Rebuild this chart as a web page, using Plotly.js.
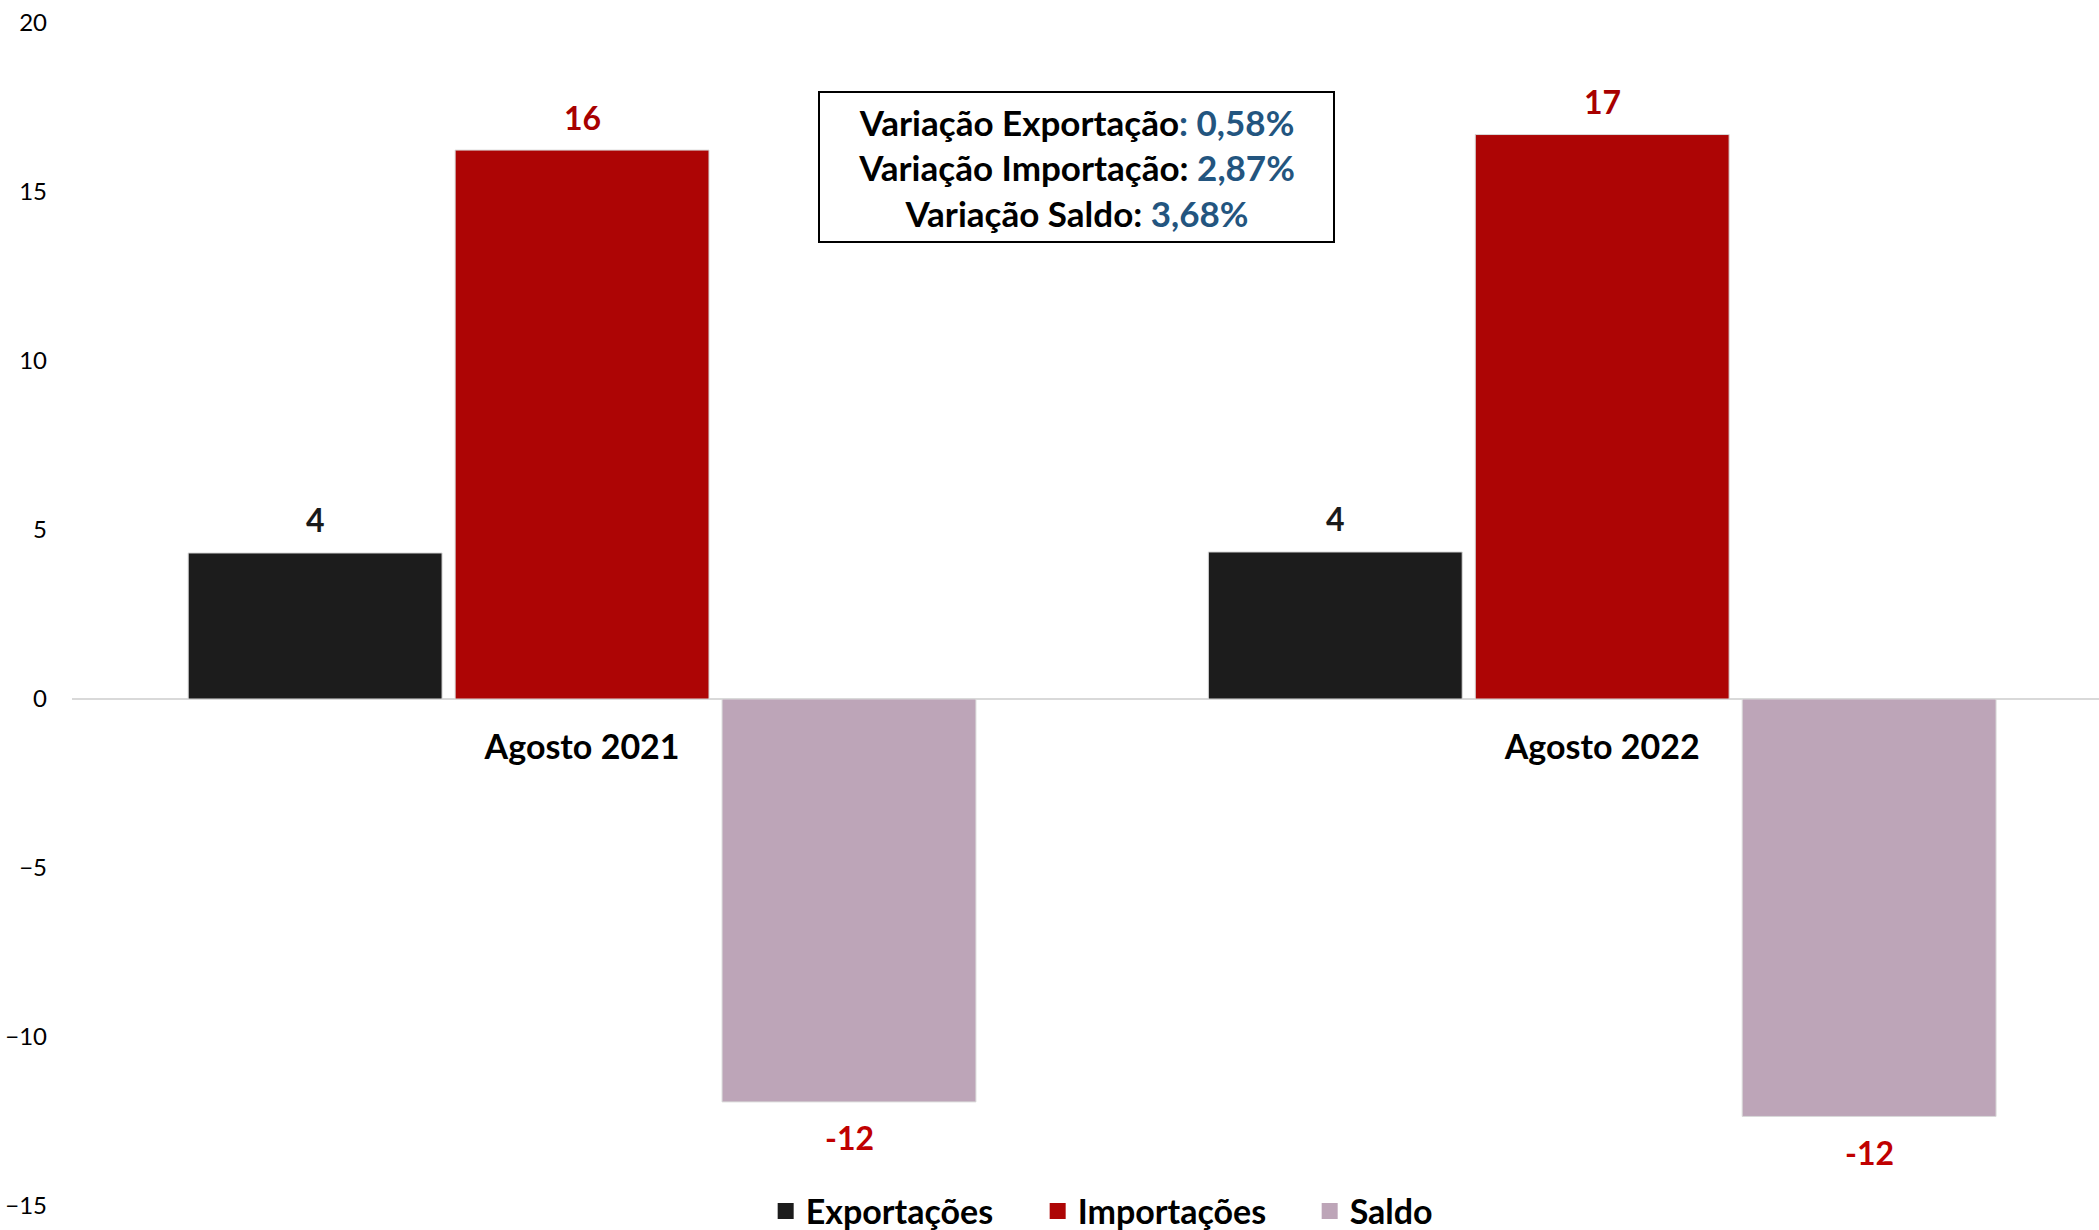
<!DOCTYPE html>
<html>
<head>
<meta charset="utf-8">
<script src="https://cdn.plot.ly/plotly-3.0.1.min.js"></script>
<style>html,body{margin:0;padding:0;background:#fff;overflow:hidden}</style>
</head>
<body>
<div id="chart" style="width:2099px;height:1230px"></div>
<script>
// ---- data ----
const categories = ['Agosto 2021', 'Agosto 2022'];
const seriesNames = ['Exportações', 'Importações', 'Saldo'];
const exportacoes = [4.32, 4.35];
const importacoes = [16.24, 16.70];
const saldo = [-11.92, -12.35];
const variacaoLabels = ['Variação Exportação', 'Variação Importação', 'Variação Saldo'];
const variacaoValues = ['0,58%', '2,87%', '3,68%'];
const yTicks = [-15, -10, -5, 0, 5, 10, 15, 20];

// ---- style ----
const barColors = ['#1c1c1c', '#ad0505', '#bda5b8'];
const labelColors = ['#1a1a1a', '#a80000', '#c00000'];
const yRange = [-15, 20];
const bargap = 0.215;
const FONT = 'Lato';

const seriesData = [exportacoes, importacoes, saldo];
const traces = seriesData.map((vals, i) => ({
  type: 'bar',
  name: seriesNames[i],
  x: categories,
  y: vals,
  showlegend: false,
  marker: {color: barColors[i], line: {color: '#d9d9d9', width: 1}},
  hoverinfo: 'skip'
}));
// legend keys (larger square swatches)
seriesNames.forEach((n, i) => {
  traces.push({
    type: 'scatter', mode: 'markers', name: n,
    x: [categories[0]], y: [null],
    marker: {symbol: 'square', size: 16, color: barColors[i]},
    showlegend: true, hoverinfo: 'skip'
  });
});

// value labels, positioned from the data through the axes
const annotations = [];
const slot = (1 - bargap) / seriesData.length;
seriesData.forEach((vals, i) => {
  vals.forEach((v, k) => {
    annotations.push({
      xref: 'x', yref: 'y',
      x: k + (i - (seriesData.length - 1) / 2) * slot,
      y: v,
      text: String(Math.round(v)),
      showarrow: false,
      yanchor: 'middle',
      yshift: v >= 0 ? 33 : -36,
      font: {family: FONT, size: 32, weight: 'bold', color: labelColors[i]}
    });
  });
});

// variation box
const varText = variacaoLabels.map((l, i) =>
  i === 0
    ? l + '<span style="color:#23557f">: ' + variacaoValues[i] + '</span>'
    : l + ': <span style="color:#23557f">' + variacaoValues[i] + '</span>'
).join('<br>');
annotations.push({
  xref: 'paper', yref: 'paper',
  x: 0.4958, y: 0.8783,
  xanchor: 'center', yanchor: 'middle',
  text: varText,
  showarrow: false,
  align: 'center',
  width: 513, height: 148,
  borderpad: 0,
  bordercolor: '#000', borderwidth: 2,
  bgcolor: '#fff',
  font: {family: FONT, size: 35, weight: 'bold', color: '#000'}
});

const layout = {
  width: 2099, height: 1230,
  margin: {l: 72, r: 0, t: 23, b: 24, autoexpand: false},
  paper_bgcolor: '#fff', plot_bgcolor: '#fff',
  barmode: 'group',
  bargap: bargap,
  bargroupgap: 0.049,
  showlegend: true,
  legend: {
    orientation: 'h', x: 0.5435, xanchor: 'center', y: -0.0045, yanchor: 'middle',
    itemsizing: 'trace', itemwidth: 30,
    entrywidth: 227,
    font: {family: FONT, size: 34, weight: 'bold', color: '#000'},
    bgcolor: 'rgba(0,0,0,0)'
  },
  xaxis: {
    type: 'category',
    range: [-0.5, 1.487],
    anchor: 'free',
    position: (0 - yRange[0]) / (yRange[1] - yRange[0]),
    showline: false, showgrid: false, zeroline: false, ticks: '',
    ticklabelstandoff: 25,
    tickfont: {family: FONT, size: 34, weight: 'bold', color: '#000'},
    fixedrange: true
  },
  yaxis: {
    range: yRange,
    tickvals: yTicks,
    showgrid: false, showline: false, ticks: '',
    zeroline: true, zerolinecolor: '#d9d9d9', zerolinewidth: 2,
    ticklabelstandoff: 24,
    tickfont: {family: FONT, size: 24, color: '#000'},
    fixedrange: true
  },
  annotations: annotations
};

Plotly.newPlot('chart', traces, layout, {displayModeBar: false, staticPlot: true});
</script>
</body>
</html>
